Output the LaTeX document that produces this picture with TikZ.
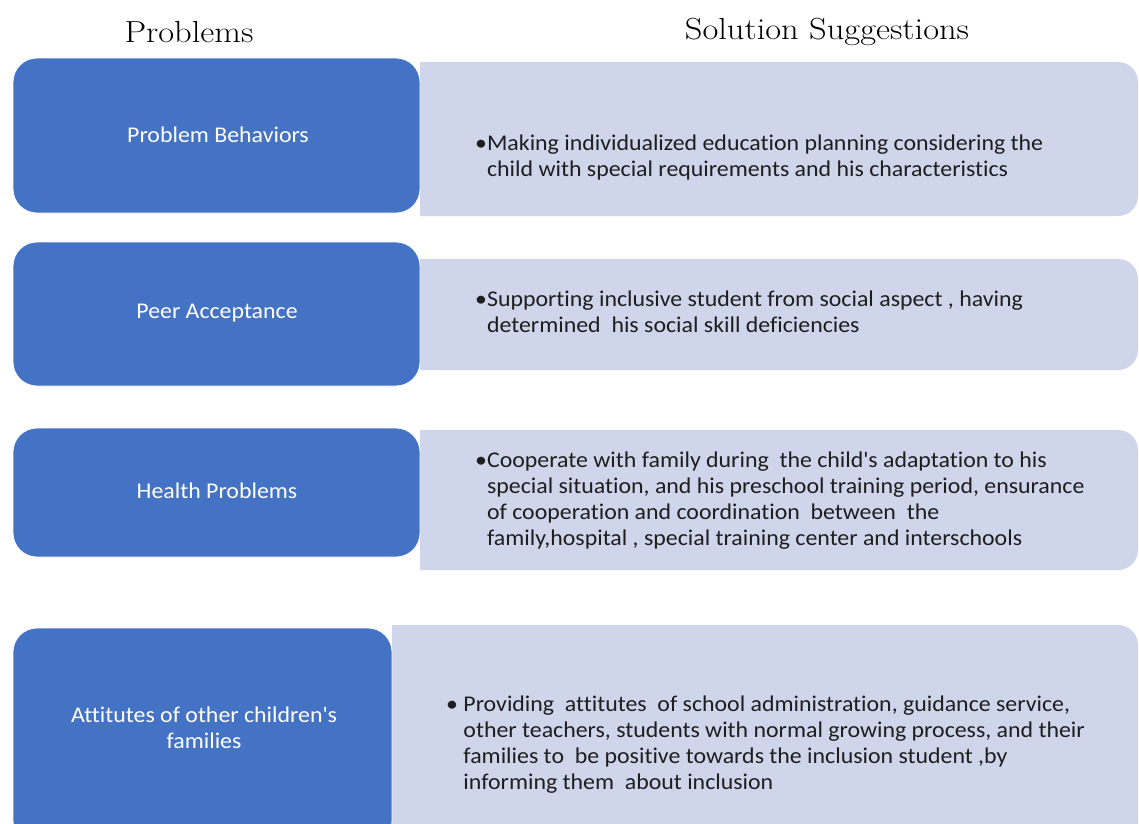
\documentclass[tikz,border=0pt]{standalone}
\usepackage{fontspec}
\setmainfont{Carlito}[FakeStretch=1.06,Ligatures=NoCommon]
\newfontfamily\titlefont{Latin Modern Roman}[FakeStretch=1.13]
\definecolor{probblue}{HTML}{4472C4}
\definecolor{sollight}{HTML}{CFD5EA}
\definecolor{soltext}{HTML}{1E1E1E}
\tikzset{
  probbox/.style={fill=probblue, draw=white, line width=0.8pt, rounded corners=24},
  problabel/.style={text=white, font=\fontsize{22.5}{26}\selectfont, align=center, inner sep=0pt},
  soltextstyle/.style={text=soltext, anchor=base west, inner sep=0pt},
  heading/.style={font=\titlefont\fontsize{30.5}{36}\selectfont, text=black, inner sep=0pt}
}
\newcommand{\soltxt}[2]{\fontsize{22.5}{26}\selectfont#1\parbox[t]{680pt}{\raggedright #2}}
\begin{document}
\begin{tikzpicture}[x=1pt,y=-1pt]
\clip (0,0) rectangle (1139,823);
\fill[white] (0,0) rectangle (1139,823);
% headings
\node[heading] (hprob) at (189,32) {Problems};
\node[heading] (hsol) at (827,32) {Solution Suggestions};
% light solution boxes (right corners rounded)
\begin{scope}
  \clip (420,0) rectangle (1139,823);
  \fill[sollight, rounded corners=20] (380,62) rectangle (1138,216);
  \fill[sollight, rounded corners=20] (380,259) rectangle (1138,370);
  \fill[sollight, rounded corners=20] (380,430) rectangle (1138,570);
\end{scope}
\begin{scope}
  \clip (392,0) rectangle (1139,823);
  \fill[sollight, rounded corners=20] (350,625) rectangle (1138,860);
\end{scope}
% blue problem boxes
\draw[probbox] (13,58) rectangle (420,213);
\draw[probbox] (13,242) rectangle (420,386);
\draw[probbox] (13,428) rectangle (420,557);
\draw[probbox] (13,628) rectangle (392,845);
% problem labels
\node[problabel] (p1) at (218,135) {Problem Behaviors};
\node[problabel] (p2) at (217,313) {Peer Acceptance};
\node[problabel] (p3) at (217,491) {Health Problems};
\node[problabel] (p4) at (204,728) {Attitutes of other children\textquotesingle s\\families};
% solution texts
\node[soltextstyle] (s1) at (475,150) {\soltxt{\textbullet}{Making individualized education planning considering the\\child with special requirements and his characteristics}};
\node[soltextstyle] (s2) at (475,306) {\soltxt{\textbullet}{Supporting inclusive student from social aspect , having\\determined\ \ his social skill deficiencies}};
\node[soltextstyle] (s3) at (475,467) {\soltxt{\textbullet}{Cooperate with family during\ \ the child\textquotesingle s adaptation to his\\special situation, and his preschool training period, ensurance\\of cooperation and coordination\ \ between\ \ the\\family,hospital , special training center and interschools}};
\node[soltextstyle] (s4) at (446,711) {\soltxt{\textbullet\ }{Providing\ \ attitutes\ \ of school administration, guidance service,\\other teachers, students with normal growing process, and their\\families to\ \ be positive towards the inclusion student ,by\\informing them\ \ about inclusion}};
\end{tikzpicture}
\end{document}
